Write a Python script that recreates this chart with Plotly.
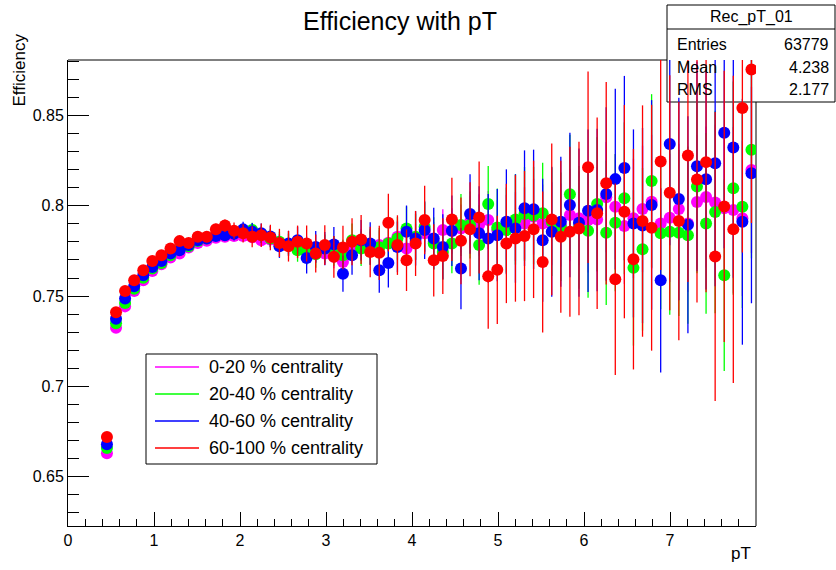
import numpy as np
import plotly.graph_objects as go

# ---- histogram binning (72 bins from 0.4 to 8.0 GeV) ----
bin_lo, bin_hi, n_bins = 0.4, 8.0, 72
edges = np.linspace(bin_lo, bin_hi, n_bins + 1)
pt = 0.5 * (edges[:-1] + edges[1:])

series_names = ["0-20 % centrality", "20-40 % centrality",
                "40-60 % centrality", "60-100 % centrality"]
series_colors = ["#ff00ff", "#00ff00", "#0000ff", "#ff0000"]

eff_0_20 = [0.663, 0.7325, 0.7443, 0.7528, 0.7587, 0.7639, 0.7676, 0.7713, 0.7735, 0.7769,
            0.7794, 0.7806, 0.7822, 0.7828, 0.7832, 0.7832, 0.7825, 0.7809, 0.7813, 0.7790,
            0.7780, 0.7772, 0.7775, 0.7744, 0.7736, 0.7717, 0.7689, 0.7772, 0.7795, 0.7782,
            0.7782, 0.7795, 0.7828, 0.7763, 0.7800, 0.7847, 0.7800, 0.7865, 0.7860, 0.7874,
            0.7911, 0.7893, 0.7921, 0.7865, 0.7880, 0.7885, 0.7902, 0.7939, 0.7902, 0.7900,
            0.7893, 0.7948, 0.7930, 0.7920, 0.7924, 0.8047, 0.7994, 0.7887, 0.7930, 0.7982,
            0.8022, 0.7902, 0.7933, 0.7982, 0.7902, 0.8020, 0.8048, 0.8018, 0.7986, 0.7976,
            0.7930, 0.8198]
eff_20_40 = [0.666, 0.7350, 0.7461, 0.7541, 0.7602, 0.7652, 0.7683, 0.7726, 0.7758, 0.7776,
             0.7805, 0.7819, 0.7837, 0.7840, 0.7848, 0.7856, 0.7865, 0.7840, 0.7819, 0.7800,
             0.7785, 0.7754, 0.7744, 0.7732, 0.7763, 0.7750, 0.7726, 0.7809, 0.7763, 0.7772,
             0.7770, 0.7791, 0.7819, 0.7874, 0.7828, 0.7883, 0.7791, 0.7744, 0.7791, 0.7893,
             0.7893, 0.7782, 0.8009, 0.7880, 0.7865, 0.7924, 0.7954, 0.7945, 0.7958, 0.7911,
             0.7883, 0.8063, 0.7880, 0.7861, 0.8009, 0.7850, 0.7906, 0.8041, 0.7656, 0.7759,
             0.8137, 0.7847, 0.7856, 0.7850, 0.7837, 0.8106, 0.7902, 0.7965, 0.7615, 0.8097,
             0.7994, 0.8309]
eff_40_60 = [0.668, 0.7374, 0.7486, 0.7554, 0.7615, 0.7661, 0.7694, 0.7736, 0.7754, 0.7782,
             0.7809, 0.7819, 0.7832, 0.7837, 0.7845, 0.7869, 0.7856, 0.7847, 0.7830, 0.7776,
             0.7791, 0.7809, 0.7710, 0.7772, 0.7763, 0.7786, 0.7624, 0.7726, 0.7809, 0.7791,
             0.7643, 0.7683, 0.7772, 0.7856, 0.7819, 0.7865, 0.7819, 0.7772, 0.7861, 0.7652,
             0.7954, 0.7847, 0.7819, 0.7837, 0.7911, 0.7874, 0.7986, 0.7980, 0.7809, 0.7856,
             0.7911, 0.8004, 0.7906, 0.7972, 0.7976, 0.8065, 0.8147, 0.8208, 0.7902, 0.7890,
             0.8004, 0.7587, 0.8341, 0.8037, 0.7895, 0.8218, 0.8146, 0.8235, 0.8404, 0.8322,
             0.7911, 0.8180]
eff_60_100 = [0.672, 0.7411, 0.7528, 0.7587, 0.7643, 0.7694, 0.7726, 0.7763, 0.7804, 0.7794,
              0.7828, 0.7828, 0.7870, 0.7890, 0.7862, 0.7847, 0.7828, 0.7837, 0.7824, 0.7794,
              0.7776, 0.7800, 0.7791, 0.7736, 0.7782, 0.7717, 0.7769, 0.7800, 0.7813, 0.7744,
              0.7739, 0.7906, 0.7782, 0.7698, 0.7791, 0.7921, 0.7698, 0.7721, 0.7924, 0.7806,
              0.7869, 0.7935, 0.7609, 0.7645, 0.7791, 0.7819, 0.7832, 0.7869, 0.7689, 0.7924,
              0.7828, 0.7856, 0.7874, 0.8213, 0.7958, 0.8124, 0.7593, 0.7967, 0.7704, 0.7915,
              0.7878, 0.8244, 0.8072, 0.7915, 0.8278, 0.8145, 0.8241, 0.7719, 0.7996, 0.7869,
              0.8541, 0.8754]

err_0_20 = [0.0009, 0.0007, 0.0008, 0.0008, 0.0009, 0.0009,
            0.0010, 0.0011, 0.0012, 0.0013, 0.0014, 0.0015, 0.0017, 0.0019,
            0.0025, 0.0028, 0.0032, 0.0036, 0.0039, 0.0043, 0.0047,
            0.0050, 0.0055, 0.0058, 0.0060, 0.0063, 0.0066, 0.0071, 0.0074,
            0.0077, 0.0082, 0.0088, 0.0091, 0.0094, 0.0099, 0.0105,
            0.0110, 0.0115, 0.0126, 0.0132, 0.0143, 0.0170, 0.0160, 0.0165,
            0.0180, 0.0190, 0.0200, 0.0210, 0.0215, 0.0230, 0.0230, 0.0255, 0.0260, 0.0290,
            0.0290, 0.0305, 0.0290, 0.0320,
            0.0330, 0.0350, 0.0370, 0.0330, 0.0355, 0.0360, 0.0380, 0.0370, 0.0390, 0.0430,
            0.0410, 0.0460, 0.0430, 0.0460]
err_20_40 = [0.0011, 0.0009, 0.0010, 0.0011, 0.0011, 0.0012,
             0.0013, 0.0015, 0.0016, 0.0018, 0.0019, 0.0021, 0.0023, 0.0025,
             0.0033, 0.0036, 0.0041, 0.0046, 0.0050, 0.0056, 0.0060,
             0.0064, 0.0072, 0.0075, 0.0078, 0.0082, 0.0086, 0.0092, 0.0096,
             0.0100, 0.0106, 0.0114, 0.0118, 0.0122, 0.0128, 0.0136,
             0.0145, 0.0152, 0.0165, 0.0172, 0.0185, 0.0220, 0.0210, 0.0215,
             0.0235, 0.0250, 0.0260, 0.0270, 0.0280, 0.0300, 0.0300, 0.0330, 0.0340, 0.0370,
             0.0370, 0.0400, 0.0380, 0.0420,
             0.0430, 0.0450, 0.0480, 0.0420, 0.0460, 0.0460, 0.0490, 0.0480, 0.0500, 0.0560,
             0.0530, 0.0590, 0.0560, 0.0600]
err_40_60 = [0.0012, 0.0010, 0.0011, 0.0012, 0.0013, 0.0014,
             0.0015, 0.0017, 0.0019, 0.0020, 0.0022, 0.0024, 0.0026, 0.0029,
             0.0038, 0.0042, 0.0048, 0.0054, 0.0058, 0.0065, 0.0070,
             0.0075, 0.0085, 0.0088, 0.0092, 0.0096, 0.0100, 0.0108, 0.0112,
             0.0118, 0.0125, 0.0135, 0.0140, 0.0145, 0.0150, 0.0160,
             0.0170, 0.0180, 0.0195, 0.0225, 0.0220, 0.0260, 0.0245, 0.0255,
             0.0290, 0.0300, 0.0320, 0.0330, 0.0340, 0.0360, 0.0360, 0.0400, 0.0410, 0.0450,
             0.0450, 0.0480, 0.0500, 0.0510,
             0.0520, 0.0540, 0.0580, 0.0510, 0.0560, 0.0560, 0.0600, 0.0580, 0.0610, 0.0680,
             0.0640, 0.0720, 0.0680, 0.0720]
err_60_100 = [0.0015, 0.0012, 0.0013, 0.0014, 0.0015, 0.0016,
              0.0018, 0.0020, 0.0022, 0.0024, 0.0026, 0.0028, 0.0030, 0.0034,
              0.0045, 0.0050, 0.0058, 0.0065, 0.0070, 0.0078, 0.0085,
              0.0090, 0.0100, 0.0105, 0.0110, 0.0115, 0.0120, 0.0130, 0.0135,
              0.0140, 0.0150, 0.0160, 0.0165, 0.0170, 0.0180, 0.0190,
              0.0200, 0.0210, 0.0230, 0.0240, 0.0260, 0.0310, 0.0290, 0.0300,
              0.0330, 0.0350, 0.0360, 0.0380, 0.0390, 0.0420, 0.0420, 0.0470, 0.0480, 0.0530,
              0.0530, 0.0560, 0.0530, 0.0590,
              0.0610, 0.0640, 0.0680, 0.0600, 0.0650, 0.0660, 0.0700, 0.0680, 0.0720, 0.0800,
              0.0750, 0.0850, 0.0800, 0.0850]

values = [eff_0_20, eff_20_40, eff_40_60, eff_60_100]
errors = [err_0_20, err_20_40, err_40_60, err_60_100]

stats_title = "Rec_pT_01"
stats_rows = [("Entries", "63779"), ("Mean", "4.238"), ("RMS", "2.177")]

x_tick_vals = [0, 1, 2, 3, 4, 5, 6, 7]

FONT = "Liberation Sans, Arial, Helvetica, sans-serif"

# ---- geometry (pixels) ----
W, H = 836, 570
L, R, T, B = 68, 756, 60, 526
PW, PH = R - L, B - T


def px(x):
    return (x - L) / PW


def py(y):
    return (B - y) / PH


fig = go.Figure()
for name, col, v, e in zip(series_names, series_colors, values, errors):
    fig.add_trace(go.Scatter(
        x=pt, y=v, mode="markers", name=name, showlegend=False,
        marker=dict(color=col, size=12, line=dict(width=0)),
        error_y=dict(type="data", array=e, visible=True, color=col,
                     thickness=1.3, width=0),
    ))

shapes = []
# top and right frame lines (below, so stats box covers them)
shapes.append(dict(type="line", xref="paper", yref="paper", x0=0, x1=1, y0=1, y1=1,
                   line=dict(color="black", width=1), layer="below"))
shapes.append(dict(type="line", xref="paper", yref="paper", x0=1, x1=1, y0=0, y1=1,
                   line=dict(color="black", width=1), layer="below"))
# stats box
shapes.append(dict(type="rect", xref="paper", yref="paper",
                   x0=px(667), x1=px(835), y0=py(102), y1=py(5),
                   fillcolor="white", line=dict(color="black", width=1), layer="below"))
shapes.append(dict(type="line", xref="paper", yref="paper",
                   x0=px(667), x1=px(835), y0=py(29), y1=py(29),
                   line=dict(color="black", width=1), layer="below"))

annotations = []
annotations.append(dict(text=stats_title, xref="paper", yref="paper", x=px(751), y=py(17),
                        xanchor="center", yanchor="middle", showarrow=False,
                        font=dict(family=FONT, size=16, color="black")))
for i, (lab, val) in enumerate(stats_rows):
    yy = py(45 + 22.5 * i)
    annotations.append(dict(text=lab, xref="paper", yref="paper", x=px(675), y=yy,
                            xanchor="left", yanchor="middle", showarrow=False,
                            font=dict(family=FONT, size=16, color="black")))
    annotations.append(dict(text=val, xref="paper", yref="paper", x=px(831), y=yy,
                            xanchor="right", yanchor="middle", showarrow=False,
                            font=dict(family=FONT, size=16, color="black")))

# legend box
shapes.append(dict(type="rect", xref="paper", yref="paper",
                   x0=px(146), x1=px(377), y0=py(464), y1=py(354),
                   fillcolor="white", line=dict(color="black", width=1), layer="above"))
for i, (name, col) in enumerate(zip(series_names, series_colors)):
    yc = 367 + 27 * i
    shapes.append(dict(type="line", xref="paper", yref="paper",
                       x0=px(155), x1=px(199), y0=py(yc), y1=py(yc),
                       line=dict(color=col, width=1.5), layer="above"))
    annotations.append(dict(text=name, xref="paper", yref="paper", x=px(207), y=py(yc),
                            xanchor="left", yanchor="middle", showarrow=False,
                            font=dict(family=FONT, size=18, color="black")))

# axis titles
annotations.append(dict(text="Efficiency", xref="paper", yref="paper", x=px(19), y=py(32),
                        xanchor="center", yanchor="top", textangle=-90, showarrow=False,
                        font=dict(family=FONT, size=17, color="black")))
annotations.append(dict(text="pT", xref="paper", yref="paper", x=px(753), y=py(553),
                        xanchor="right", yanchor="middle", showarrow=False,
                        font=dict(family=FONT, size=17, color="black")))

fig.update_layout(
    width=W, height=H,
    margin=dict(l=L, r=W - R, t=T, b=H - B, pad=0),
    paper_bgcolor="white", plot_bgcolor="white",
    title=dict(text="Efficiency with pT", x=400 / W, xref="container", xanchor="center",
               y=1 - 21 / H, yref="container", yanchor="middle",
               font=dict(family=FONT, size=25, color="black")),
    font=dict(family=FONT, size=16, color="black"),
    showlegend=False,
    shapes=shapes, annotations=annotations,
    xaxis=dict(range=[0, 8], tickmode="array", tickvals=x_tick_vals,
               ticks="inside", ticklen=14, tickwidth=1, tickcolor="black",
               showline=True, linecolor="black", linewidth=1, mirror=False,
               showgrid=False, zeroline=False,
               minor=dict(dtick=0.2, tick0=0, ticks="inside", ticklen=7,
                          tickcolor="black", tickwidth=1, showgrid=False),
               tickfont=dict(family=FONT, size=16, color="black")),
    yaxis=dict(range=[0.6228, 0.8806], tick0=0.65, dtick=0.05,
               ticks="inside", ticklen=21, tickwidth=1, tickcolor="black",
               showline=True, linecolor="black", linewidth=1, mirror=False,
               showgrid=False, zeroline=False,
               minor=dict(dtick=0.01, tick0=0.65, ticks="inside", ticklen=11,
                          tickcolor="black", tickwidth=1, showgrid=False),
               tickfont=dict(family=FONT, size=16, color="black")),
)

fig.write_html("out.html")
